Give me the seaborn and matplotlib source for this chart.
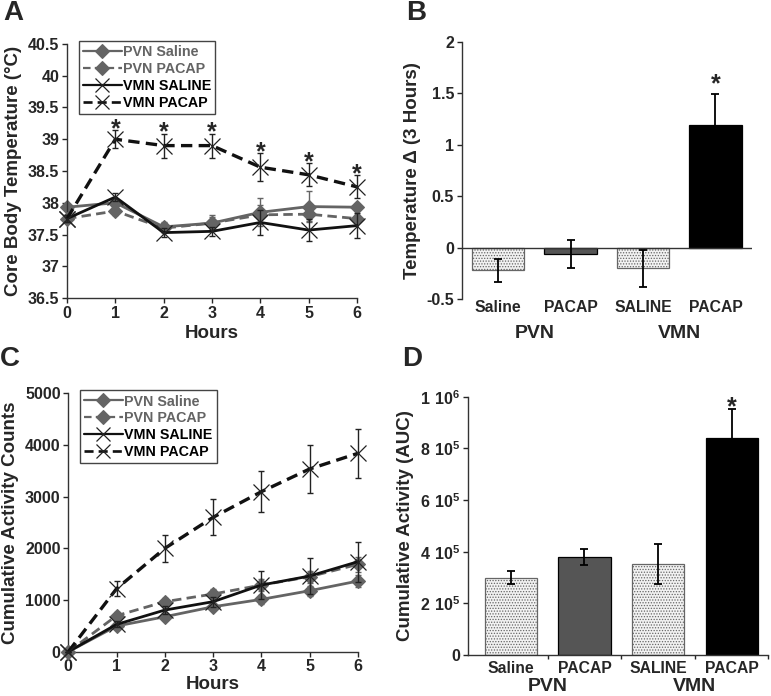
import numpy as np
import pandas as pd
import matplotlib
matplotlib.use("Agg")
import matplotlib.pyplot as plt
from matplotlib.lines import Line2D
import seaborn as sns

# ---------------- data ----------------
hours = [0, 1, 2, 3, 4, 5, 6]
series_names = ["PVN Saline", "PVN PACAP", "VMN SALINE", "VMN PACAP"]

# Panel A: core body temperature (°C)
temp_pvn_saline = [37.93, 38.00, 37.62, 37.68, 37.85, 37.94, 37.93]
temp_pvn_saline_err = [0.04, 0.06, 0.08, 0.12, 0.22, 0.25, 0.05]
temp_pvn_pacap = [37.75, 37.87, 37.60, 37.68, 37.81, 37.82, 37.75]
temp_pvn_pacap_err = [0.04, 0.07, 0.06, 0.10, 0.15, 0.10, 0.05]
temp_vmn_saline = [37.75, 38.09, 37.53, 37.55, 37.69, 37.57, 37.64]
temp_vmn_saline_err = [0.05, 0.06, 0.07, 0.07, 0.20, 0.17, 0.20]
temp_vmn_pacap = [37.75, 39.00, 38.90, 38.90, 38.56, 38.44, 38.25]
temp_vmn_pacap_err = [0.05, 0.14, 0.19, 0.19, 0.22, 0.18, 0.18]
temp_sig_hours = [1, 2, 3, 4, 5, 6]

# Panel C: cumulative activity counts
act_pvn_saline = [0, 497, 677, 870, 1013, 1180, 1367]
act_pvn_saline_err = [0, 60, 60, 70, 80, 100, 120]
act_pvn_pacap = [0, 697, 968, 1116, 1290, 1451, 1690]
act_pvn_pacap_err = [0, 70, 80, 90, 120, 120, 150]
act_vmn_saline = [0, 529, 806, 968, 1290, 1464, 1741]
act_vmn_saline_err = [0, 60, 80, 100, 270, 340, 390]
act_vmn_pacap = [0, 1220, 2000, 2600, 3096, 3535, 3838]
act_vmn_pacap_err = [0, 150, 255, 350, 400, 460, 470]

# Panels B and D: bar groups
bar_keys = ["PVN Saline", "PVN PACAP", "VMN SALINE", "VMN PACAP"]
bar_labels = ["Saline", "PACAP", "SALINE", "PACAP"]
group_labels = ["PVN", "VMN"]
delta_temp = [-0.22, -0.065, -0.20, 1.19]
delta_temp_err = [0.11, 0.135, 0.18, 0.30]
auc = [3.00e5, 3.78e5, 3.52e5, 8.41e5]
auc_err = [0.26e5, 0.31e5, 0.78e5, 1.10e5]

# ---------------- style ----------------
sns.set_style("ticks")
plt.rcParams["font.family"] = ["Liberation Sans", "DejaVu Sans"]
plt.rcParams["font.weight"] = "bold"
plt.rcParams["axes.labelweight"] = "bold"
plt.rcParams["mathtext.fontset"] = "custom"
plt.rcParams["mathtext.rm"] = "Liberation Sans"
plt.rcParams["mathtext.bf"] = "Liberation Sans:bold"
plt.rcParams["hatch.linewidth"] = 0.6
plt.rcParams["axes.edgecolor"] = "#333333"
plt.rcParams["axes.linewidth"] = 1.0

GRAY = "#646464"
BLACK = "#111111"
LIGHT = "#f2f2f2"
bar_colors = [LIGHT, "#555555", LIGHT, "#000000"]

fig = plt.figure(figsize=(7.71, 6.96), dpi=100)
axA = fig.add_axes([0.0869, 0.5718, 0.3762, 0.3650])
axB = fig.add_axes([0.599, 0.5704, 0.376, 0.3693])
axC = fig.add_axes([0.0886, 0.0636, 0.3754, 0.3713])
axD = fig.add_axes([0.607, 0.0589, 0.389, 0.3711])

dash = (0, (3.4, 1.9))
line_styles = {
    "PVN Saline": dict(color=GRAY, ls="-", marker="D", ms=7.5, lms=7, mec=GRAY, mew=0.8, lw=2.0, z=2),
    "PVN PACAP": dict(color=GRAY, ls=dash, marker="D", ms=7.5, lms=7, mec=GRAY, mew=0.8, lw=2.0, z=3),
    "VMN SALINE": dict(color=BLACK, ls="-", marker="x", ms=12, lms=9.5, mec="#222222", mew=0.9, lw=2.0, z=4),
    "VMN PACAP": dict(color=BLACK, ls=dash, marker="x", ms=12, lms=9.5, mec="#222222", mew=0.9, lw=2.4, z=5),
}


def line_panel(ax, series, errs):
    handles = []
    for name, vals, err in zip(series_names, series, errs):
        st = line_styles[name]
        ecol = GRAY if name.startswith("PVN") else "#222222"
        ax.errorbar(hours, vals, yerr=err, fmt="none", ecolor=ecol, elinewidth=1.0,
                    capsize=2.5, capthick=1.0, zorder=st["z"], clip_on=False)
        sns.lineplot(x=hours, y=vals, ax=ax, color=st["color"],
                     linestyle=st["ls"], marker=st["marker"], markersize=st["ms"],
                     markeredgecolor=st["mec"], markeredgewidth=st["mew"],
                     markerfacecolor=st["color"], linewidth=st["lw"], zorder=st["z"],
                     clip_on=False)
        handles.append(Line2D([], [], color=st["color"], linestyle=st["ls"],
                              marker=st["marker"], markersize=st["lms"],
                              markeredgecolor=st["mec"], markeredgewidth=st["mew"],
                              markerfacecolor=st["color"], linewidth=st["lw"] * 0.8,
                              label=name))
    ax.set_xlim(0, 6)
    ax.set_xticks(hours)
    ax.set_xlabel("Hours", fontsize=13.5, labelpad=3)
    sns.despine(ax=ax)
    ax.tick_params(labelsize=11.5, length=3.5, width=1, pad=2)
    leg = ax.legend(handles=handles, loc="upper left", bbox_to_anchor=(0.04, 1.012),
                    fontsize=10.3, frameon=True, fancybox=False, edgecolor="#444444",
                    framealpha=1, handlelength=2.7, handletextpad=0.1,
                    labelspacing=0.2, borderpad=0.3, borderaxespad=0)
    leg.get_frame().set_linewidth(1.0)
    for t, name in zip(leg.get_texts(), series_names):
        t.set_color(GRAY if name.startswith("PVN") else "#000000")
        t.set_fontweight("bold")


# ---- Panel A ----
line_panel(axA,
           [temp_pvn_saline, temp_pvn_pacap, temp_vmn_saline, temp_vmn_pacap],
           [temp_pvn_saline_err, temp_pvn_pacap_err, temp_vmn_saline_err, temp_vmn_pacap_err])
axA.set_ylim(36.5, 40.5)
a_ticks = np.arange(36.5, 40.51, 0.5)
axA.set_yticks(a_ticks)
axA.set_yticklabels([f"{v:g}" for v in a_ticks])
axA.set_ylabel("Core Body Temperature (°C)", fontsize=13.5, labelpad=4)
for h in temp_sig_hours:
    top = temp_vmn_pacap[h] + temp_vmn_pacap_err[h]
    axA.annotate("*", xy=(h, top), xytext=(0, -4.5), textcoords="offset points",
                 ha="center", va="baseline", fontsize=18, fontweight="bold")

# ---- Panel C ----
line_panel(axC,
           [act_pvn_saline, act_pvn_pacap, act_vmn_saline, act_vmn_pacap],
           [act_pvn_saline_err, act_pvn_pacap_err, act_vmn_saline_err, act_vmn_pacap_err])
axC.set_ylim(0, 5000)
axC.set_yticks(range(0, 5001, 1000))
axC.set_ylabel("Cumulative Activity Counts", fontsize=13.5, labelpad=4)
axC.xaxis.labelpad = 1


# ---- bar panels ----
def bar_panel(ax, vals, errs, width, group_offset):
    df = pd.DataFrame({"group": bar_keys, "value": vals})
    sns.barplot(data=df, x="group", y="value", hue="group", order=bar_keys,
                hue_order=bar_keys, palette=dict(zip(bar_keys, bar_colors)),
                width=width, dodge=False, legend=False, errorbar=None, ax=ax,
                saturation=1)
    for p, c in zip(ax.patches, bar_colors):
        if c == LIGHT:
            p.set_edgecolor("#666666")
            p.set_hatch("......")
        else:
            p.set_edgecolor("#000000")
        p.set_linewidth(0.9)
    ax.errorbar(range(len(vals)), vals, yerr=errs, fmt="none", ecolor="black",
                elinewidth=1.3, capsize=3, capthick=1.3, zorder=4)
    ax.set_xticks(range(len(vals)))
    ax.set_xticklabels(bar_labels, fontsize=11.3)
    ax.set_xlabel("")
    ax.tick_params(axis="y", labelsize=11.5, length=3.5, width=1, pad=2)
    for i, g in enumerate(group_labels):
        ax.annotate(g, xy=(2 * i + 0.5, 0), xycoords=("data", "axes fraction"),
                    xytext=(0, group_offset), textcoords="offset points", ha="center",
                    va="center", fontsize=14, fontweight="bold")


# ---- Panel B ----
bar_panel(axB, delta_temp, delta_temp_err, 0.72, -25)
axB.set_xlim(-0.5, 3.5)
axB.set_ylim(-0.5, 2)
b_ticks = [-0.5, 0, 0.5, 1, 1.5, 2]
axB.set_yticks(b_ticks)
axB.set_yticklabels([f"{v:g}" for v in b_ticks])
axB.axhline(0, color="#333333", lw=1.0, zorder=1)
sns.despine(ax=axB, bottom=True)
axB.tick_params(axis="x", length=0, pad=1)
axB.set_ylabel("Temperature \u0394 (3 Hours)", fontsize=13.5, labelpad=4)
axB.annotate("*", xy=(3, delta_temp[3] + delta_temp_err[3]), xytext=(0, 2.5),
             textcoords="offset points", ha="center", va="baseline",
             fontsize=18, fontweight="bold")

# ---- Panel D ----
bar_panel(axD, auc, auc_err, 0.71, -23)
axD.set_xlim(-0.58, 3.49)
axD.set_ylim(0, 1e6)
d_ticks = [0, 2e5, 4e5, 6e5, 8e5, 1e6]
d_labels = ["0", r"$\mathbf{2\ 10^{5}}$", r"$\mathbf{4\ 10^{5}}$",
            r"$\mathbf{6\ 10^{5}}$", r"$\mathbf{8\ 10^{5}}$", r"$\mathbf{1\ 10^{6}}$"]
axD.set_yticks(d_ticks)
axD.set_yticklabels(d_labels)
sns.despine(ax=axD)
axD.set_xticks([0.5, 1.5, 2.5, 3.49], minor=True)
axD.tick_params(axis="x", which="major", length=0, pad=4)
axD.tick_params(axis="x", which="minor", length=3, width=1, direction="out")
axD.set_ylabel("Cumulative Activity (AUC)", fontsize=13.5, labelpad=4)
axD.annotate("*", xy=(3, auc[3] + auc_err[3]), xytext=(0, -3.2),
             textcoords="offset points", ha="center", va="baseline",
             fontsize=18, fontweight="bold")

# ---- panel letters ----
for letter, x, y in [("A", 0.004, 1.0), ("B", 0.527, 1.0), ("C", 0.0, 0.503), ("D", 0.522, 0.503)]:
    fig.text(x, y, letter, fontsize=20, fontweight="bold", va="top", ha="left")

fig.savefig("out.png", dpi=100)
